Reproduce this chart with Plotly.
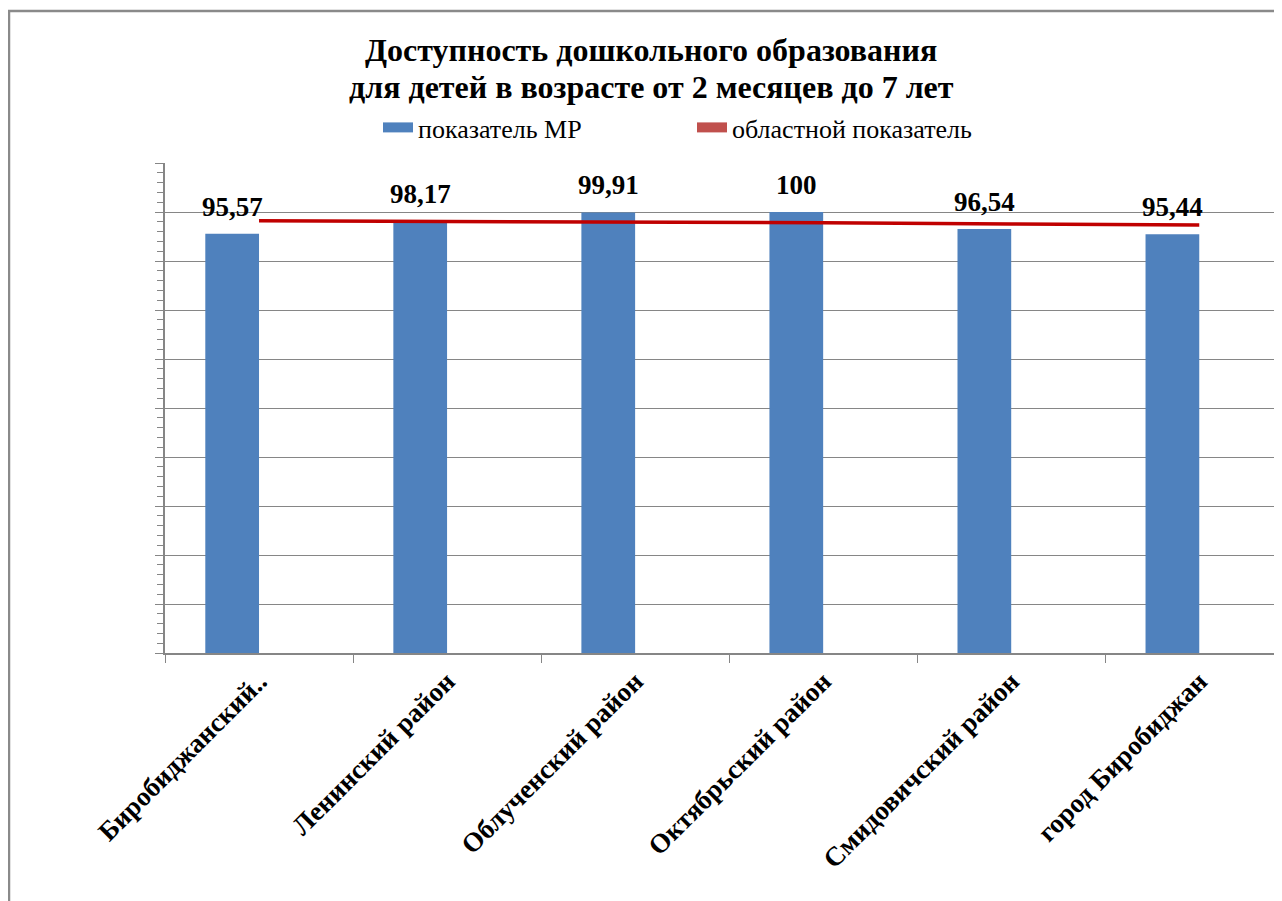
import plotly.graph_objects as go

categories = ["Биробиджанский..", "Ленинский район", "Облученский район",
              "Октябрьский район", "Смидовичский район", "город Биробиджан"]
mr_values = [95.57, 98.17, 99.91, 100, 96.54, 95.44]
mr_labels = ["95,57", "98,17", "99,91", "100", "96,54", "95,44"]
regional_values = [98.2, 98.1, 97.95, 97.8, 97.55, 97.35]

series_names = ["показатель МР", "областной показатель"]
title_lines = ["Доступность дошкольного образования",
               "для детей в возрасте от 2 месяцев до 7 лет"]

BAR_W = 0.2857
FONT = "Liberation Serif, Times New Roman, serif"
GRID = "#868686"

# page offset (browser body margin) is 8px; figure laid out accordingly
W, H = 1274, 893
L, T, B = 157, 155, 248
PW, PH = W - L, H - T - B  # 1117 x 490


def px_to_paper_x(px):
    return (px - 8 - L) / PW


def px_to_paper_y(py):
    return 1 + (T + 8 - py) / PH


fig = go.Figure()

fig.add_trace(go.Bar(
    x=categories, y=mr_values, offset=-BAR_W, width=BAR_W,
    marker=dict(color="#4F81BD", line=dict(width=0)),
    showlegend=False, name=series_names[0],
))
fig.add_trace(go.Scatter(
    x=categories, y=regional_values, mode="lines",
    line=dict(color="#C00000", width=3.5), showlegend=False,
    name=series_names[1],
))
# legend entries (block style like the original)
fig.add_trace(go.Scatter(x=[None], y=[None], mode="lines",
                         line=dict(color="#4F81BD", width=11),
                         name=series_names[0]))
fig.add_trace(go.Scatter(x=[None], y=[None], mode="lines",
                         line=dict(color="#C0504D", width=11),
                         name=series_names[1]))

for c, v, t in zip(categories, mr_values, mr_labels):
    fig.add_annotation(x=c, y=v, text=t, showarrow=False, xshift=-27,
                       yanchor="bottom", yshift=10,
                       font=dict(family=FONT, size=27, color="black", weight="bold"))

# two-line title (tight line spacing like the original)
for line, cy in zip(title_lines, [50, 87]):
    fig.add_annotation(xref="paper", yref="paper", x=px_to_paper_x(651),
                       y=px_to_paper_y(cy), xanchor="center", yanchor="middle",
                       text=line, showarrow=False,
                       font=dict(family=FONT, size=32, color="black", weight="bold"))

fig.add_shape(type="rect", xref="paper", yref="paper",
              x0=px_to_paper_x(9), x1=1.5, y0=-1.0, y1=px_to_paper_y(11),
              line=dict(color="#8a8a8a", width=2.5), layer="below")

fig.update_layout(
    width=W, height=H,
    margin=dict(l=L, r=0, t=T, b=B, autoexpand=False),
    paper_bgcolor="white", plot_bgcolor="white",
    font=dict(family=FONT, color="black"),
    legend=dict(orientation="h", xref="container", yref="container",
                x=370 / W, xanchor="left", y=1 - 96 / H, yanchor="top",
                font=dict(family=FONT, size=26, color="black"),
                entrywidth=269, itemwidth=30, bgcolor="rgba(0,0,0,0)"),
    xaxis=dict(type="category", range=[-0.5, 5.44], showgrid=False,
               showline=True, linecolor=GRID, linewidth=1.5, automargin=False,
               ticks="outside", tickson="boundaries", ticklen=8, tickcolor=GRID,
               tickangle=-45,
               tickfont=dict(family=FONT, size=27, color="black", weight="bold")),
    yaxis=dict(range=[10, 110], dtick=10, showgrid=True, gridcolor=GRID,
               gridwidth=1.2, showline=True, linecolor=GRID, linewidth=1.5,
               ticks="outside", ticklen=8, tickcolor=GRID, automargin=False,
               showticklabels=False, zeroline=False,
               minor=dict(dtick=2, ticks="outside", ticklen=6, tickcolor=GRID,
                          showgrid=False)),
    yaxis2=dict(range=[10, 110], dtick=10, overlaying="y", side="left",
                showgrid=False, showline=False, showticklabels=False,
                ticks="", zeroline=False, automargin=False,
                minor=dict(dtick=2, ticks="inside", ticklen=7, tickcolor=GRID,
                           showgrid=False)),
)

fig.write_html("out.html")
